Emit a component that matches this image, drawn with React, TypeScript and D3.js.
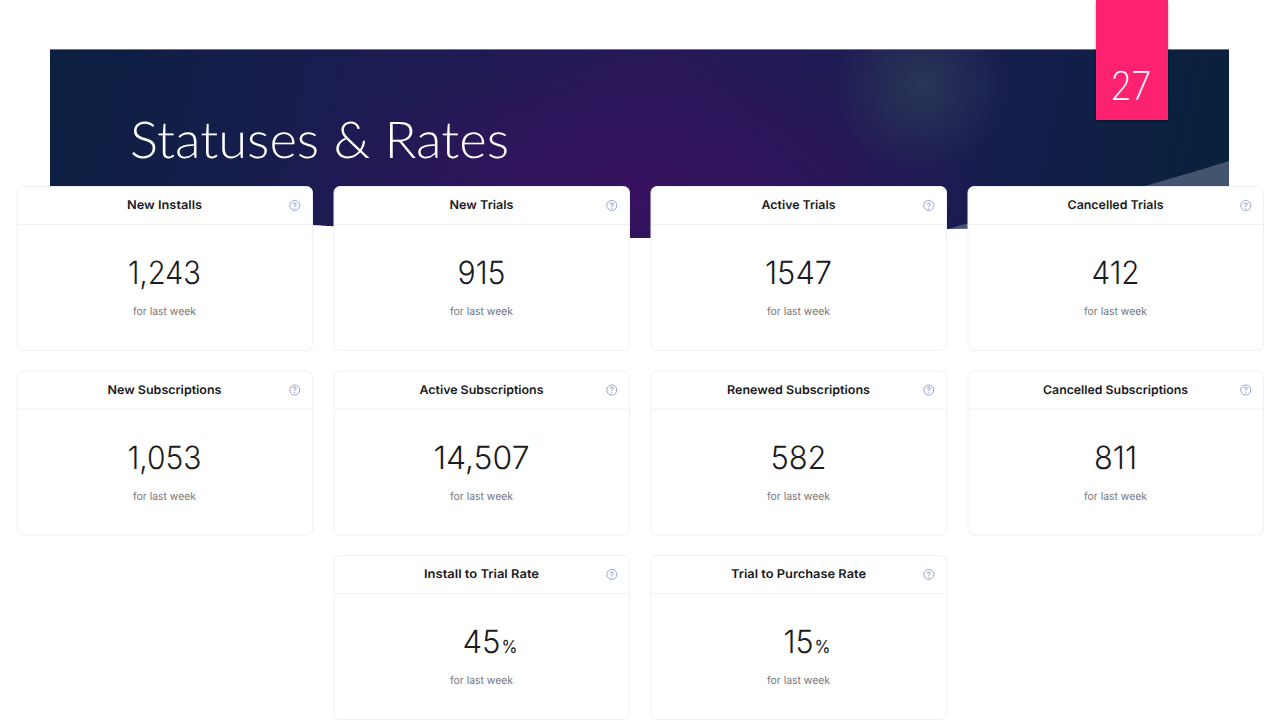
import React from "react";
import * as d3 from "d3";

const titles = ["New Installs","New Trials","Active Trials","Cancelled Trials","New Subscriptions","Active Subscriptions","Renewed Subscriptions","Cancelled Subscriptions","Install to Trial Rate","Trial to Purchase Rate"];
const values = ["1,243","915","1547","412","1,053","14,507","582","811","45","15"];
const suffixes = ["","","","","","","","","%","%"];
const cols = [0,1,2,3,0,1,2,3,1,2];
const rows = [0,0,0,0,1,1,1,1,2,2];
const titleWidths = [75,64,74,96,114,124,143,145,115,135];
const valueWidths = [73,48,67,48,74,96,56,43,38,30];
const subtitle = "for last week";
const pageTitle = "Statuses & Rates";
const pageNumber = "27";

const x = d3.scaleLinear().domain([0, 3]).range([16.5, 967.5]);
const y = d3.scaleLinear().domain([0, 2]).range([186, 555]);
const F = "Inter, 'Open Sans', sans-serif";
const R: any = { textRendering: "geometricPrecision" };

const line = d3.line().curve(d3.curveCatmullRom);
const whiteEdge = line([[50,213],[313,225],[333,226.3],[480,236],[640,245],[800,237],[947,229],[1100,229],[1229,229]] as any)!;
const lightEdge = line([[947,229.5],[967,223.5],[1060,207],[1145,186],[1229,161]] as any)!;

export default function App() {
  return (
    <svg width={1280} height={720} style={{position:"fixed",left:0,top:0,background:"#fff"}} viewBox="0 0 1280 720">
      <defs>
        <linearGradient id="bg" gradientUnits="userSpaceOnUse" x1="50" y1="0" x2="1229" y2="260">
          <stop offset="0" stopColor="#0b2040"/>
          <stop offset="0.25" stopColor="#1a1c50"/>
          <stop offset="0.5" stopColor="#281859"/>
          <stop offset="0.75" stopColor="#181c50"/>
          <stop offset="1" stopColor="#07223a"/>
        </linearGradient>
        <radialGradient id="purple">
          <stop offset="0" stopColor="#37115f" stopOpacity="1"/>
          <stop offset="1" stopColor="#37115f" stopOpacity="0"/>
        </radialGradient>
        <radialGradient id="glow" gradientUnits="userSpaceOnUse" cx="921" cy="85" r="90">
          <stop offset="0" stopColor="#2b3658" stopOpacity="0.95"/>
          <stop offset="0.5" stopColor="#2b3658" stopOpacity="0.5"/>
          <stop offset="1" stopColor="#2b3658" stopOpacity="0"/>
        </radialGradient>
        <filter id="sh" x="-20%" y="-20%" width="140%" height="140%">
          <feDropShadow dx="0" dy="1.5" stdDeviation="1.5" floodColor="#000" floodOpacity="0.35"/>
        </filter>
        <clipPath id="banner"><rect x="50" y="49.5" width="1179" height="188.5"/></clipPath>
      </defs>
      <g clipPath="url(#banner)">
        <rect x="50" y="49.5" width="1179" height="188.5" fill="url(#bg)"/>
        <ellipse cx="640" cy="195" rx="360" ry="140" fill="url(#purple)"/>
        <circle cx="921" cy="85" r="90" fill="url(#glow)"/>
        <path d={`${lightEdge}L1229,260L947,260Z`} fill="#42546e"/>
        <path d={`${whiteEdge}L1229,260L50,260Z`} fill="#fff"/>
      </g>
      <rect x="50" y="49" width="1179" height="1" fill="#6c7396"/>
      <text x="130" y="158" fontFamily="Lato, sans-serif" fontWeight={300} fontSize={51} fill="#fff" textLength={379} lengthAdjust="spacingAndGlyphs" style={R}>{pageTitle}</text>
      <rect x="1096" y="0" width="72" height="120" fill="#fd2470" filter="url(#sh)"/>
      <text x="1111" y="100" fontFamily="Lato, sans-serif" fontWeight={300} fontSize={41} fill="#fff" textLength={40} lengthAdjust="spacingAndGlyphs" style={R}>{pageNumber}</text>
      {titles.map((t, i) => {
        const cx = x(cols[i]), cy = y(rows[i]);
        const mid = cx + 148.5;
        return (
          <g key={t}>
            <rect x={cx+0.5} y={cy+0.5} width={295.5} height={164} rx={6} fill="#fff" stroke="#eff0f6"/>
            <line x1={cx+1} x2={cx+296} y1={cy+38.5} y2={cy+38.5} stroke="#f0f1f7"/>
            <text x={mid-0.5} y={cy+23} textAnchor="middle" fontFamily={F} fontWeight={600} fontSize={12} fill="#1a1a22" textLength={titleWidths[i]} lengthAdjust="spacingAndGlyphs" style={R}>{t}</text>
            <circle cx={cx+278.3} cy={cy+19.5} r={5} fill="none" stroke="#98a5d0" strokeWidth={1}/>
            <text x={cx+278.3} y={cy+22.6} textAnchor="middle" fontFamily={F} fontSize={8.5} fill="#8794c4" style={R}>?</text>
            <text x={mid-0.5} y={cy+98} textAnchor="middle" fontFamily={F} fontWeight={300} fontSize={32} fill="#1b1b22" textLength={valueWidths[i]} lengthAdjust="spacingAndGlyphs" style={R}>{values[i]}</text>
            {suffixes[i] && (
              <text x={mid-0.5+valueWidths[i]/2+1} y={cy+98} fontFamily={F} fontWeight={400} fontSize={18} fill="#1b1b22" textLength={16} lengthAdjust="spacingAndGlyphs" style={R}>{suffixes[i]}</text>
            )}
            <text x={mid-0.5} y={cy+129} textAnchor="middle" fontFamily={F} fontSize={11} fill="#76767e" textLength={63} lengthAdjust="spacingAndGlyphs" style={R}>{subtitle}</text>
          </g>
        );
      })}
    </svg>
  );
}
